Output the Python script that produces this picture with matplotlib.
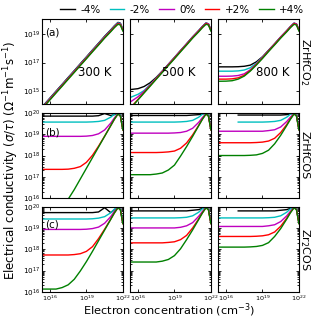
import numpy as np
import matplotlib.pyplot as plt

# log10 of electron concentration (cm^-3), shared grid for all curves
logn = [15.3, 16.0, 16.5, 17.0, 17.5, 18.0, 18.5, 19.0, 19.5, 20.0, 20.5, 21.0, 21.3, 21.6, 21.8, 22.0]

strains = ["-4%", "-2%", "0%", "+2%", "+4%"]
temps = ["300 K", "500 K", "800 K"]
materials = ["ZrHfCO$_2$", "ZrHfCOS", "Zr$_2$COS"]
panel_tags = ["(a)", "(b)", "(c)"]
nan = np.nan

# log10 of sigma/tau, (a) ZrHfCO2
a300_black = [13.88, 14.54, 15.02, 15.49, 15.97, 16.44, 16.92, 17.39, 17.87, 18.34, 18.82, 19.26, 19.54, 19.78, 19.72, 19.30]
a300_cyan = [13.85, 14.51, 14.99, 15.46, 15.94, 16.41, 16.89, 17.36, 17.84, 18.31, 18.79, 19.23, 19.51, 19.75, 19.69, 19.28]
a300_mag = [13.82, 14.48, 14.96, 15.43, 15.91, 16.38, 16.86, 17.33, 17.81, 18.28, 18.76, 19.20, 19.48, 19.72, 19.66, 19.25]
a300_red = [13.79, 14.45, 14.93, 15.40, 15.88, 16.35, 16.83, 17.30, 17.78, 18.25, 18.73, 19.17, 19.45, 19.69, 19.63, 19.22]
a300_green = [13.75, 14.41, 14.89, 15.36, 15.84, 16.31, 16.79, 17.26, 17.74, 18.21, 18.69, 19.13, 19.41, 19.65, 19.59, 19.18]

a500_black = [15.12, 15.19, 15.34, 15.60, 15.97, 16.41, 16.88, 17.35, 17.83, 18.30, 18.78, 19.22, 19.50, 19.74, 19.68, 19.27]
a500_cyan = [14.56, 14.80, 15.06, 15.48, 15.93, 16.39, 16.87, 17.34, 17.82, 18.29, 18.77, 19.21, 19.49, 19.73, 19.67, 19.26]
a500_mag = [14.23, 14.63, 15.00, 15.44, 15.91, 16.38, 16.86, 17.33, 17.81, 18.28, 18.76, 19.20, 19.48, 19.72, 19.66, 19.25]
a500_red = [13.79, 14.45, 14.93, 15.40, 15.88, 16.35, 16.83, 17.30, 17.78, 18.25, 18.73, 19.17, 19.45, 19.69, 19.63, 19.22]
a500_green = [13.75, 14.41, 14.89, 15.36, 15.84, 16.31, 16.79, 17.26, 17.74, 18.21, 18.69, 19.13, 19.41, 19.65, 19.59, 19.18]

a800_black = [16.70, 16.70, 16.70, 16.71, 16.74, 16.82, 17.05, 17.40, 17.85, 18.30, 18.77, 19.21, 19.49, 19.73, 19.67, 19.26]
a800_cyan = [16.40, 16.40, 16.40, 16.42, 16.48, 16.64, 16.95, 17.37, 17.83, 18.29, 18.76, 19.20, 19.48, 19.72, 19.66, 19.25]
a800_mag = [16.05, 16.05, 16.06, 16.10, 16.22, 16.50, 16.90, 17.35, 17.82, 18.28, 18.76, 19.20, 19.48, 19.72, 19.66, 19.25]
a800_red = [15.85, 15.85, 15.87, 15.94, 16.12, 16.45, 16.87, 17.32, 17.80, 18.26, 18.73, 19.17, 19.45, 19.69, 19.63, 19.22]
a800_green = [15.70, 15.71, 15.74, 15.85, 16.06, 16.41, 16.83, 17.28, 17.76, 18.22, 18.69, 19.13, 19.41, 19.65, 19.59, 19.18]

# (b) ZrHfCOS
b300_black = [19.85, 19.85, 19.85, 19.85, 19.85, 19.85, 19.85, 19.85, 19.85, 19.87, 19.97, 19.88, 19.92, 20.00, 19.90, 19.25]
b300_cyan = [19.57, 19.57, 19.57, 19.57, 19.57, 19.57, 19.57, 19.57, 19.58, 19.60, 19.65, 19.80, 19.94, 20.00, 19.90, 19.25]
b300_mag = [18.90, 18.90, 18.90, 18.90, 18.90, 18.90, 18.90, 18.91, 18.94, 19.02, 19.20, 19.52, 19.76, 19.97, 19.87, 19.22]
b300_red = [17.35, 17.35, 17.35, 17.35, 17.36, 17.40, 17.48, 17.68, 18.01, 18.44, 18.91, 19.40, 19.70, 19.95, 19.85, 19.20]
b300_green = [15.02, 15.10, 15.25, 15.55, 15.95, 16.40, 16.90, 17.40, 17.90, 18.40, 18.90, 19.40, 19.70, 19.95, 19.85, 19.20]

b500_black = [19.88, 19.88, 19.88, 19.88, 19.88, 19.88, 19.88, 19.88, 19.88, 19.88, 19.90, 19.92, 19.95, 20.00, 19.90, 19.25]
b500_cyan = [19.57, 19.57, 19.57, 19.57, 19.57, 19.57, 19.57, 19.57, 19.58, 19.60, 19.65, 19.80, 19.94, 20.00, 19.90, 19.25]
b500_mag = [19.05, 19.05, 19.05, 19.05, 19.05, 19.05, 19.05, 19.06, 19.08, 19.14, 19.28, 19.56, 19.78, 19.97, 19.87, 19.22]
b500_red = [18.14, 18.14, 18.14, 18.14, 18.14, 18.15, 18.17, 18.21, 18.34, 18.59, 18.97, 19.42, 19.71, 19.95, 19.85, 19.20]
b500_green = [17.10, 17.10, 17.10, 17.10, 17.13, 17.18, 17.32, 17.55, 17.97, 18.42, 18.90, 19.40, 19.70, 19.95, 19.85, 19.20]

b800_black = [nan, nan, nan, 19.90, 19.90, 19.90, 19.90, 19.90, 19.90, 19.90, 19.90, 19.92, 19.95, 20.00, 19.90, 19.25]
b800_cyan = [nan, nan, nan, 19.57, 19.57, 19.57, 19.57, 19.57, 19.58, 19.60, 19.65, 19.80, 19.94, 20.00, 19.90, 19.25]
b800_mag = [19.14, 19.14, 19.14, 19.14, 19.14, 19.14, 19.14, 19.14, 19.17, 19.21, 19.34, 19.60, 19.80, 19.97, 19.87, 19.22]
b800_red = [18.60, 18.60, 18.60, 18.60, 18.60, 18.60, 18.61, 18.63, 18.68, 18.81, 19.08, 19.46, 19.73, 19.96, 19.86, 19.21]
b800_green = [18.00, 18.00, 18.00, 18.00, 18.00, 18.01, 18.03, 18.10, 18.25, 18.55, 18.95, 19.41, 19.70, 19.95, 19.85, 19.20]

# (c) Zr2COS
c300_black = [19.72, 19.72, 19.72, 19.72, 19.72, 19.72, 19.72, 19.72, 19.72, 19.75, 19.95, 19.72, 19.85, 20.00, 19.90, 19.25]
c300_cyan = [19.42, 19.42, 19.42, 19.42, 19.42, 19.42, 19.42, 19.42, 19.43, 19.46, 19.53, 19.71, 19.88, 20.00, 19.90, 19.25]
c300_mag = [18.93, 18.93, 18.93, 18.93, 18.93, 18.93, 18.93, 18.94, 18.97, 19.04, 19.22, 19.53, 19.77, 19.97, 19.87, 19.22]
c300_red = [17.73, 17.73, 17.73, 17.73, 17.73, 17.75, 17.79, 17.90, 18.12, 18.50, 18.94, 19.41, 19.70, 19.95, 19.85, 19.20]
c300_green = [16.13, 16.13, 16.13, 16.20, 16.33, 16.59, 16.98, 17.42, 17.90, 18.40, 18.90, 19.40, 19.70, 19.95, 19.85, 19.20]

c500_black = [19.80, 19.80, 19.80, 19.80, 19.80, 19.80, 19.80, 19.80, 19.80, 19.80, 19.83, 19.86, 19.92, 20.00, 19.90, 19.25]
c500_cyan = [19.47, 19.47, 19.47, 19.47, 19.47, 19.47, 19.47, 19.47, 19.48, 19.50, 19.57, 19.74, 19.90, 20.00, 19.90, 19.25]
c500_mag = [19.00, 19.00, 19.00, 19.00, 19.00, 19.00, 19.00, 19.00, 19.03, 19.10, 19.25, 19.55, 19.77, 19.97, 19.87, 19.22]
c500_red = [18.30, 18.30, 18.30, 18.30, 18.30, 18.30, 18.32, 18.35, 18.45, 18.65, 19.00, 19.43, 19.71, 19.95, 19.85, 19.20]
c500_green = [17.40, 17.40, 17.40, 17.40, 17.40, 17.44, 17.52, 17.70, 18.02, 18.45, 18.91, 19.40, 19.70, 19.95, 19.85, 19.20]

c800_black = [nan, nan, nan, 19.80, 19.80, 19.80, 19.80, 19.80, 19.80, 19.80, 19.83, 19.86, 19.92, 20.00, 19.90, 19.25]
c800_cyan = [19.47, 19.47, 19.47, 19.47, 19.47, 19.47, 19.47, 19.47, 19.48, 19.50, 19.57, 19.74, 19.90, 20.00, 19.90, 19.25]
c800_mag = [19.07, 19.07, 19.07, 19.07, 19.07, 19.07, 19.07, 19.07, 19.10, 19.15, 19.30, 19.57, 19.78, 19.97, 19.87, 19.22]
c800_red = [18.60, 18.60, 18.60, 18.60, 18.60, 18.60, 18.61, 18.63, 18.68, 18.81, 19.08, 19.46, 19.73, 19.96, 19.86, 19.21]
c800_green = [18.10, 18.10, 18.10, 18.10, 18.10, 18.11, 18.13, 18.18, 18.31, 18.60, 18.97, 19.42, 19.71, 19.95, 19.85, 19.20]

data = [
    [[a300_black, a300_cyan, a300_mag, a300_red, a300_green],
     [a500_black, a500_cyan, a500_mag, a500_red, a500_green],
     [a800_black, a800_cyan, a800_mag, a800_red, a800_green]],
    [[b300_black, b300_cyan, b300_mag, b300_red, b300_green],
     [b500_black, b500_cyan, b500_mag, b500_red, b500_green],
     [b800_black, b800_cyan, b800_mag, b800_red, b800_green]],
    [[c300_black, c300_cyan, c300_mag, c300_red, c300_green],
     [c500_black, c500_cyan, c500_mag, c500_red, c500_green],
     [c800_black, c800_cyan, c800_mag, c800_red, c800_green]],
]
colors = ['k', 'c', 'm', 'r', 'g']

n = 10.0 ** np.array(logn)

fig, axes = plt.subplots(3, 3, figsize=(3.14, 3.2), dpi=100)
plt.subplots_adjust(left=0.134, right=0.952, top=0.94, bottom=0.088, wspace=0.09, hspace=0.1)

for i in range(3):
    for j in range(3):
        ax = axes[i, j]
        for k in range(5):
            ax.plot(n, 10.0 ** np.array(data[i][j][k]), color=colors[k], lw=1.0,
                    label=strains[k])
        ax.set_xscale('log')
        ax.set_yscale('log')
        ax.set_xlim(10 ** 15.35, 1e22)
        if i == 0:
            ax.set_ylim(10 ** 14.1, 1e20)
            ax.set_yticks([1e15, 1e17, 1e19])
        else:
            ax.set_ylim(1e16, 1e20)
            ax.set_yticks([1e16, 1e17, 1e18, 1e19, 1e20])
        ax.set_xticks([1e16, 1e19, 1e22])
        ax.tick_params(which='both', direction='in', top=True, right=True,
                       labelsize=5.2, pad=1.5, length=2.5, width=0.6)
        ax.tick_params(axis='x', labelsize=4.6, pad=1.0)
        ax.tick_params(which='minor', length=1.3)
        if j > 0:
            ax.set_yticklabels([])
        if i < 2:
            ax.set_xticklabels([])
        if i == 0:
            xs = [0.65, 0.6, 0.68]
            ax.text(xs[j], 0.38, temps[j], transform=ax.transAxes, fontsize=8.5,
                    ha='center', va='center')
        if j == 0:
            ax.text(0.04, [0.84, 0.77, 0.79][i], panel_tags[i], transform=ax.transAxes,
                    fontsize=7.5, ha='left', va='center')
        if j == 2:
            ax.text(1.07, 0.5, materials[i], transform=ax.transAxes, fontsize=8,
                    rotation=-90, ha='center', va='center')

handles, labels = axes[0, 0].get_legend_handles_labels()
fig.legend(handles, labels, loc='upper center', bbox_to_anchor=(0.58, 1.015), ncol=5,
           frameon=False, fontsize=7.5, handlelength=1.4, columnspacing=0.9,
           handletextpad=0.5)

fig.text(0.035, 0.5, r"Electrical conductivity ($\sigma/\tau$) ($\Omega^{-1}$m$^{-1}$s$^{-1}$)",
         rotation=90, ha='center', va='center', fontsize=8.5)
fig.text(0.54, 0.002, r"Electron concentration (cm$^{-3}$)", ha='center', va='bottom',
         fontsize=8.2)

fig.savefig("out.png", dpi=100)
